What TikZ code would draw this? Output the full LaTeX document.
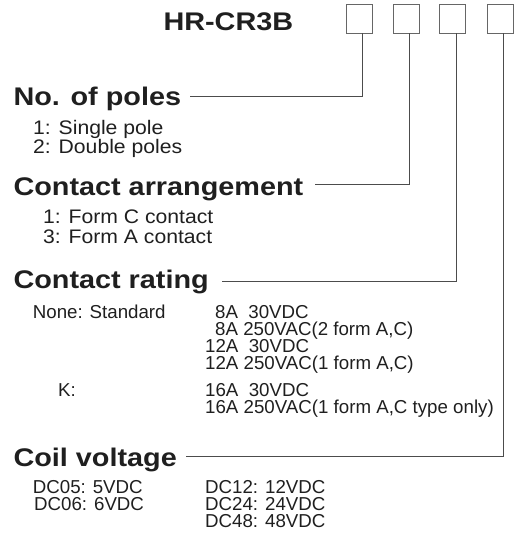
\documentclass[tikz,border=0pt]{standalone}
\usepackage{fontspec}
\setmainfont{Liberation Sans}
\newfontfamily\headfont{Liberation Sans}[FakeStretch=1.13]
\newfontfamily\listfont{Liberation Sans}[FakeStretch=1.08]
\begin{document}
\begin{tikzpicture}[x=1pt,y=-1pt,
    head/.style={anchor=base west,inner sep=0pt,text=black!88,
      font=\headfont\bfseries\fontsize{25.5}{25.5}\selectfont},
    item/.style={anchor=base west,inner sep=0pt,text=black!88,
      font=\listfont\fontsize{19.6}{19.6}\selectfont},
    spec/.style={anchor=base west,inner sep=0pt,text=black!88,
      font=\fontsize{18.7}{18.7}\selectfont},
    codebox/.style={draw=black!60,line width=0.9pt,anchor=north west,
      minimum width=26pt,minimum height=28.5pt,inner sep=0pt},
    lead/.style={draw=black!70,line width=0.9pt}]
  \useasboundingbox (0,0) rectangle (514,542);

  % model code and its four boxes
  \node[head] (model) at (163.3,30.5) {HR-CR3B};
  \node[codebox] (b1) at (345.7,4) {};
  \node[codebox] (b2) at (392.7,4) {};
  \node[codebox] (b3) at (439.3,4) {};
  \node[codebox] (b4) at (486.7,4) {};

  % No. of poles
  \node[head] (poles) at (13.3,105) {No. of poles};
  \node[item] (p1) at (33,134) {1: Single pole};
  \node[item] (p2) at (33,153) {2: Double poles};
  \coordinate (poles-end) at (190,96);

  % Contact arrangement
  \node[head] (arr) at (13.3,195) {Contact arrangement};
  \node[item] (a1) at (43,223) {1: Form C contact};
  \node[item] (a3) at (43,243.5) {3: Form A contact};
  \coordinate (arr-end) at (315,184);

  % Contact rating
  \node[head] (rating) at (13.3,288) {Contact rating};
  \node[spec] (rnone) at (32.7,318) {None: Standard};
  \node[spec] (r1) at (215,318) {8A\ \ 30VDC};
  \node[spec] (r2) at (215,335) {8A 250VAC(2 form A,C)};
  \node[spec] (r3) at (205,352) {12A\ \ 30VDC};
  \node[spec] (r4) at (205,369.5) {12A 250VAC(1 form A,C)};
  \node[spec] (rk) at (58,396.5) {K:};
  \node[spec] (r5) at (205,396.5) {16A\ \ 30VDC};
  \node[spec] (r6) at (205,413.5) {16A 250VAC(1 form A,C type only)};
  \coordinate (rating-end) at (221.7,281);

  % Coil voltage
  \node[head] (coil) at (13.3,466) {Coil voltage};
  \node[spec] (c05) at (32.7,493) {DC05: 5VDC};
  \node[spec] (c06) at (34,510.5) {DC06: 6VDC};
  \node[spec] (c12) at (205,493) {DC12: 12VDC};
  \node[spec] (c24) at (205,510.5) {DC24: 24VDC};
  \node[spec] (c48) at (205,527.5) {DC48: 48VDC};
  \coordinate (coil-end) at (186,456);

  % leaders from the boxes
  \draw[lead] ([xshift=3.5pt]b1.south) |- (poles-end);
  \draw[lead] ([xshift=3.5pt]b2.south) |- (arr-end);
  \draw[lead] ([xshift=3.5pt]b3.south) |- (rating-end);
  \draw[lead] ([xshift=3.5pt]b4.south) |- (coil-end);
\end{tikzpicture}
\end{document}
